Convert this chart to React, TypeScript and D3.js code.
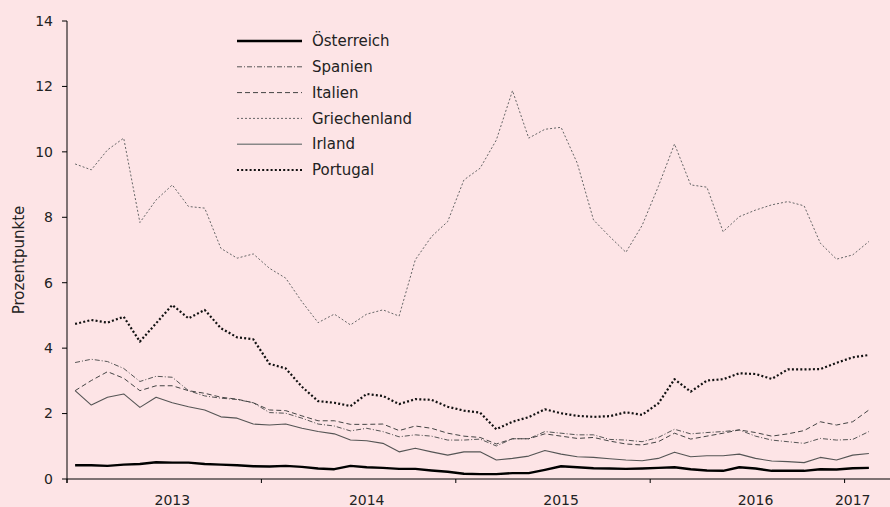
import * as d3 from "d3";

const W = 890;
const H = 507;

// monthly observations, Jan 2013 .. Feb 2017
const months: string[] = [];
for (let y = 2013; y <= 2017; y++) {
  for (let m = 1; m <= 12; m++) {
    if (y === 2017 && m > 2) break;
    months.push(`${y}-${String(m).padStart(2, "0")}`);
  }
}

const oesterreich = [
  0.42, 0.42, 0.4, 0.44, 0.46, 0.51, 0.5, 0.5, 0.46, 0.44, 0.42, 0.39, 0.38,
  0.4, 0.37, 0.32, 0.3, 0.4, 0.36, 0.34, 0.31, 0.31, 0.26, 0.22, 0.16, 0.15,
  0.15, 0.18, 0.18, 0.28, 0.39, 0.36, 0.33, 0.32, 0.31, 0.32, 0.34, 0.36, 0.3,
  0.26, 0.25, 0.36, 0.32, 0.25, 0.25, 0.25, 0.3, 0.29, 0.33, 0.34,
];
const spanien = [
  3.56, 3.66, 3.59, 3.38, 2.98, 3.14, 3.11, 2.7, 2.54, 2.47, 2.43, 2.33, 2.03,
  2.01, 1.86, 1.68, 1.62, 1.47, 1.55, 1.45, 1.29, 1.35, 1.31, 1.19, 1.19, 1.22,
  1.01, 1.23, 1.23, 1.45, 1.4, 1.35, 1.35, 1.21, 1.19, 1.14, 1.27, 1.52, 1.38,
  1.42, 1.45, 1.5, 1.31, 1.19, 1.14, 1.09, 1.24, 1.19, 1.21, 1.45,
];
const italien = [
  2.7, 3.01, 3.28, 3.08, 2.7, 2.85, 2.85, 2.7, 2.62, 2.5, 2.44, 2.33, 2.11,
  2.09, 1.93, 1.78, 1.78, 1.67, 1.67, 1.68, 1.48, 1.62, 1.55, 1.4, 1.31, 1.27,
  1.07, 1.23, 1.23, 1.38, 1.31, 1.24, 1.27, 1.16, 1.07, 1.04, 1.14, 1.4, 1.22,
  1.31, 1.4, 1.5, 1.42, 1.31, 1.38, 1.48, 1.75, 1.65, 1.75, 2.11,
];
const griechenland = [
  9.63, 9.45, 10.06, 10.42, 7.84, 8.53, 8.99, 8.33, 8.28, 7.05, 6.75, 6.88,
  6.44, 6.14, 5.42, 4.78, 5.04, 4.71, 5.04, 5.17, 4.98, 6.7, 7.41, 7.87, 9.14,
  9.5, 10.36, 11.87, 10.42, 10.69, 10.75, 9.65, 7.92, 7.41, 6.93, 7.75, 8.94,
  10.24, 8.99, 8.92, 7.56, 8.02, 8.22, 8.38, 8.48, 8.35, 7.21, 6.72, 6.85, 7.26,
];
const irland = [
  2.7, 2.26, 2.5, 2.6, 2.19, 2.5, 2.33, 2.21, 2.11, 1.9, 1.86, 1.68, 1.65,
  1.68, 1.55, 1.45, 1.38, 1.19, 1.17, 1.09, 0.83, 0.94, 0.83, 0.73, 0.83, 0.83,
  0.58, 0.63, 0.7, 0.87, 0.76, 0.68, 0.66, 0.62, 0.58, 0.56, 0.63, 0.82, 0.68,
  0.71, 0.71, 0.76, 0.63, 0.55, 0.53, 0.5, 0.66, 0.58, 0.73, 0.78,
];
const portugal = [
  4.74, 4.86, 4.78, 4.96, 4.2, 4.76, 5.32, 4.91, 5.17, 4.61, 4.33, 4.27, 3.52,
  3.38, 2.82, 2.38, 2.33, 2.23, 2.6, 2.54, 2.29, 2.44, 2.42, 2.21, 2.09, 2.03,
  1.52, 1.75, 1.89, 2.13, 2.01, 1.93, 1.9, 1.92, 2.04, 1.96, 2.31, 3.05, 2.67,
  3.01, 3.05, 3.23, 3.21, 3.06, 3.35, 3.35, 3.36, 3.55, 3.72, 3.79,
];

const yTicks = [0, 2, 4, 6, 8, 10, 12, 14];
const years = ["2013", "2014", "2015", "2016", "2017"];

const series = [
  { name: "Österreich", values: oesterreich, stroke: "#000", width: 2.4, dash: "none" },
  { name: "Spanien", values: spanien, stroke: "#555", width: 1, dash: "5,2,1,2" },
  { name: "Italien", values: italien, stroke: "#444", width: 1, dash: "5,3" },
  { name: "Griechenland", values: griechenland, stroke: "#666", width: 1, dash: "2,2" },
  { name: "Irland", values: irland, stroke: "#555", width: 1.1, dash: "none" },
  { name: "Portugal", values: portugal, stroke: "#111", width: 2.2, dash: "2,2.2" },
];

const FONT = "'DejaVu Sans', sans-serif";

export default function App() {
  const x = d3.scaleBand<string>().domain(months).range([67, 877]).padding(0);
  const y = d3.scaleLinear().domain([0, 14]).range([479, 21]);
  const cx = (m: string) => (x(m) as number) + x.bandwidth() / 2;

  const line = d3
    .line<number>()
    .x((_, i) => cx(months[i]))
    .y((d) => y(d));

  // year boundaries (January) get a tick, labels sit at July (or first month)
  const yearTicks = months.filter((m) => m.endsWith("-01"));
  const yearLabels = years.map((yr) => {
    const inYear = months.filter((m) => m.startsWith(yr));
    const at = inYear.find((m) => m.endsWith("-07")) || inYear[0];
    return { yr, x: cx(at) };
  });

  const x0 = 67;
  const yBase = y(0);

  return (
    <div style={{ position: "absolute", left: 0, top: 0 }}>
      <svg width={W} height={H} style={{ display: "block" }} fontFamily={FONT}>
        <rect width={W} height={H} fill="#fde4e6" />

        {/* y axis */}
        <line x1={x0} x2={x0} y1={y(14)} y2={yBase + 4} stroke="#000" strokeWidth={1} />
        {yTicks.map((t) => (
          <g key={t}>
            <line x1={x0 - 5} x2={x0} y1={y(t)} y2={y(t)} stroke="#000" />
            <text
              x={53}
              y={y(t)}
              dy="0.35em"
              textAnchor="end"
              fontSize={14}
              fill="#222"
            >
              {t}
            </text>
          </g>
        ))}
        <text
          transform={`translate(19,${260}) rotate(-90)`}
          textAnchor="middle"
          dy="0.35em"
          fontSize={15}
          fill="#222"
        >
          Prozentpunkte
        </text>

        {/* x axis */}
        <line x1={x0} x2={W} y1={yBase} y2={yBase} stroke="#000" strokeWidth={1} />
        {yearTicks.map((m) => (
          <line
            key={m}
            x1={x(m) as number}
            x2={x(m) as number}
            y1={yBase}
            y2={yBase + 4}
            stroke="#000"
          />
        ))}
        {yearLabels.map((d) => (
          <text key={d.yr} x={d.x} y={505} textAnchor="middle" fontSize={14} fill="#222">
            {d.yr}
          </text>
        ))}

        {/* lines */}
        <g fill="none" strokeLinejoin="round">
          {series.map((s) => (
            <path
              key={s.name}
              d={line(s.values) as string}
              stroke={s.stroke}
              strokeWidth={s.width}
              strokeDasharray={s.dash}
            />
          ))}
        </g>

        {/* legend */}
        <g>
          {series.map((s, i) => {
            const ly = 41 + i * 25.8;
            return (
              <g key={s.name}>
                <line
                  x1={237}
                  x2={302}
                  y1={ly}
                  y2={ly}
                  stroke={s.name === "Irland" ? "#888" : s.stroke}
                  strokeWidth={s.name === "Irland" ? 1.6 : s.width}
                  strokeDasharray={s.dash}
                />
                <text x={312} y={ly} dy="0.35em" fontSize={15} fill="#222">
                  {s.name}
                </text>
              </g>
            );
          })}
        </g>
      </svg>
    </div>
  );
}
